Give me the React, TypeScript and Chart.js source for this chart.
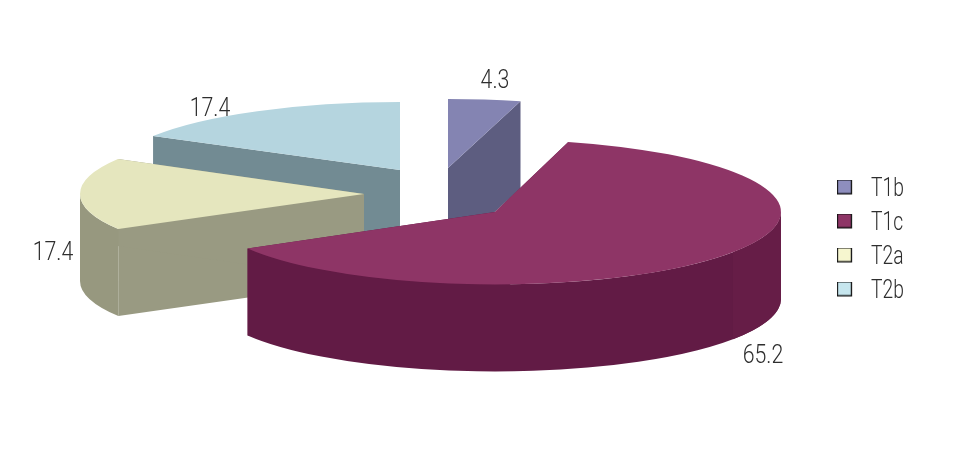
import React, { useEffect, useRef } from "react";
import { Chart, registerables } from "chart.js";

Chart.register(...registerables);

const categories = ["T1b", "T1c", "T2a", "T2b"];
const seriesValues = [4.3, 65.2, 17.4, 17.4];

const topColors = ["#8484B2", "#8E3566", "#E5E6BE", "#B5D5DF"];
const wallColors = ["#5D5D80", "#621B45", "#999A82", "#728B93"];
const rimColors = ["#5D5D80", "#621B45", "#97987F", "#728B93"];
const legendColors = ["#8E8EBE", "#8E3566", "#F6F6CF", "#C6E6EE"];

// Presentation of the exploded pie (pixels on the canvas)
const sliceCentres = [[448, 168], [495, 212], [364, 194], [400, 170]];
const sliceRadii = [[283, 69], [286, 72.5], [284, 70], [285, 68]];
const labelCentres = [[495, 81], [763, 356], [53, 253], [210, 109]];
const paintOrder = [3, 0, 2, 1];
const DEPTH = 87;
const RIM_SHADE_ANGLE = 0.588; // lighter facet at the right end of the large slice
const RIM_SHADE_COLOR = "#661D47";
const FONT = 'Roboto, "Liberation Sans", sans-serif';
const TEXT_COLOR = "#2e2e2e";
const LABEL_SQUEEZE = 0.82;
const LEGEND_SQUEEZE = 0.74;
const LEGEND_X = 837;

function legendSwatch(color: string) {
  const c = document.createElement("canvas");
  const w = 15 / LEGEND_SQUEEZE;
  c.width = 33;
  c.height = 19; // box sits at the top: the text runs a little lower than it
  const g = c.getContext("2d")!;
  g.fillStyle = "#111";
  g.fillRect(0, 0, w, 15);
  g.fillStyle = color;
  g.fillRect(1.3, 1, w - 2.9, 12.6);
  return c;
}

const pie3d = {
  id: "pie3d",
  afterUpdate(chart: any) {
    const legend = chart.legend;
    if (!legend || legend.squeezed) return;
    legend.squeezed = true;
    const drawLegend = legend.draw.bind(legend);
    legend.draw = () => {
      const ctx = chart.ctx;
      ctx.save();
      ctx.translate(LEGEND_X, 0);
      ctx.scale(LEGEND_SQUEEZE, 1);
      ctx.translate(-legend.legendHitBoxes[0].left, 0);
      drawLegend();
      ctx.restore();
    };
  },
  beforeDatasetsDraw(chart: any) {
    const ctx: CanvasRenderingContext2D = chart.ctx;
    const arcs = chart.getDatasetMeta(0).data;
    for (const i of paintOrder) {
      const arc = arcs[i];
      const [cx, cy] = sliceCentres[i];
      const [rx, ry] = sliceRadii[i];
      const px = (a: number) => cx + Math.cos(a) * rx;
      const py = (a: number) => cy + Math.sin(a) * ry;
      const rim = (from: number, to: number) => {
        ctx.beginPath();
        ctx.ellipse(cx, cy, rx, ry, 0, from, to);
        ctx.ellipse(cx, cy + DEPTH, rx, ry, 0, to, from, true);
        ctx.closePath();
        ctx.fill();
      };
      ctx.save();
      ctx.fillStyle = wallColors[i];
      // flat cut faces
      for (const a of [arc.startAngle, arc.endAngle]) {
        ctx.beginPath();
        ctx.moveTo(cx, cy);
        ctx.lineTo(px(a), py(a));
        ctx.lineTo(px(a), py(a) + DEPTH);
        ctx.lineTo(cx, cy + DEPTH);
        ctx.closePath();
        ctx.fill();
      }
      // outer rim, only the front half shows
      const from = Math.max(arc.startAngle, 0);
      const to = Math.min(arc.endAngle, Math.PI);
      if (to > from) {
        ctx.fillStyle = rimColors[i];
        rim(from, to);
        if (from === 0) {
          ctx.fillStyle = RIM_SHADE_COLOR;
          rim(0, RIM_SHADE_ANGLE);
        }
      }
      // top face: the library's own arc, flattened
      ctx.translate(cx, cy);
      ctx.scale(rx / arc.outerRadius, ry / arc.outerRadius);
      ctx.translate(-arc.x, -arc.y);
      arc.draw(ctx);
      ctx.restore();
    }
    seriesValues.forEach((v, i) => {
      ctx.save();
      ctx.fillStyle = TEXT_COLOR;
      ctx.font = `300 26px ${FONT}`;
      ctx.textAlign = "center";
      ctx.textBaseline = "middle";
      ctx.translate(labelCentres[i][0], labelCentres[i][1]);
      ctx.scale(LABEL_SQUEEZE, 1);
      ctx.fillText(String(v), 0, 0);
      ctx.restore();
    });
    return false;
  },
};

export default function App() {
  const ref = useRef<HTMLCanvasElement>(null);
  useEffect(() => {
    document.body.style.margin = "0";
    const chart = new Chart(ref.current!, {
      type: "pie",
      data: {
        labels: categories,
        datasets: [{ data: seriesValues, backgroundColor: topColors, borderWidth: 0 }],
      },
      plugins: [pie3d],
      options: {
        responsive: false,
        animation: false,
        layout: { padding: { top: 26 } },
        plugins: {
          tooltip: { enabled: false },
          legend: {
            position: "right",
            labels: {
              usePointStyle: true,
              pointStyleWidth: 33,
              padding: 8,
              color: TEXT_COLOR,
              font: { family: FONT, size: 26, weight: "300" },
              generateLabels: () =>
                categories.map((text, i) => ({
                  text,
                  index: i,
                  datasetIndex: 0,
                  fontColor: TEXT_COLOR,
                  lineWidth: 0,
                  pointStyle: legendSwatch(legendColors[i]),
                })),
            },
          },
        },
      },
    } as any);
    return () => chart.destroy();
  }, []);
  return <canvas ref={ref} width={979} height={454} style={{ display: "block" }} />;
}
